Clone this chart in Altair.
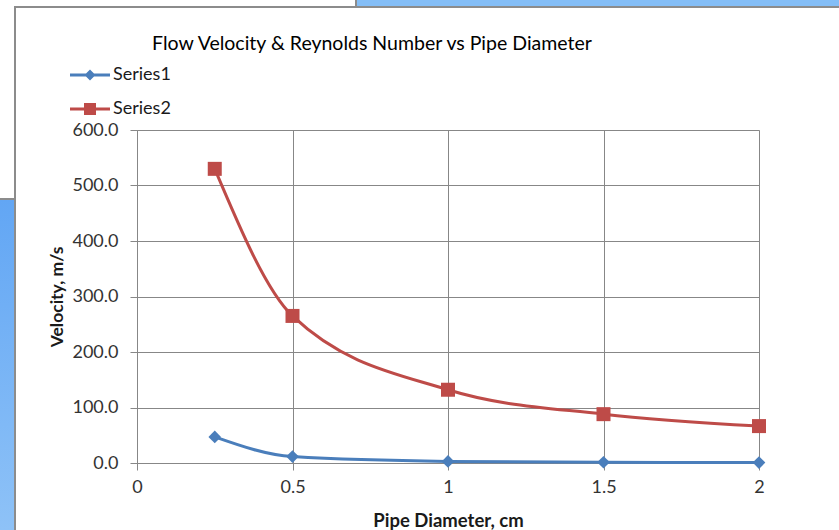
import altair as alt
import pandas as pd

# ---- data ----
diameter = [0.25, 0.5, 1.0, 1.5, 2.0]
series1 = [47.0, 11.5, 2.9, 1.3, 0.7]
series2 = [530.0, 265.0, 132.0, 88.0, 66.5]
series_names = ["Series1", "Series2"]
series_colors = ["#4A7EBB", "#BE4B48"]
x_ticks = [0, 0.5, 1, 1.5, 2]
y_ticks = [0, 100, 200, 300, 400, 500, 600]
title_text = "Flow Velocity & Reynolds Number vs Pipe Diameter"
x_title = "Pipe Diameter, cm"
y_title = "Velocity, m/s"

df = pd.DataFrame({
    "diameter": diameter + diameter,
    "value": series1 + series2,
    "series": [series_names[0]] * len(diameter) + [series_names[1]] * len(diameter),
})
d1 = df[df.series == series_names[0]]
d2 = df[df.series == series_names[1]]

FONT = "Lato"
GRID = "#878787"
W, H = 622, 333

x = alt.X("diameter:Q", scale=alt.Scale(domain=[0, 2], nice=False, zero=False),
          axis=alt.Axis(values=x_ticks, format="~g", title=x_title, grid=True,
                        gridColor=GRID, domainColor=GRID, tickColor=GRID, tickSize=7,
                        labelFont=FONT, labelFontSize=18, labelColor="#333333", labelPadding=8,
                        titleFont=FONT, titleFontSize=18.5, titleFontWeight="bold", titleColor="#1a1a1a",
                        titleY=57, titleBaseline="middle", labelFlush=False))
y = alt.Y("value:Q", scale=alt.Scale(domain=[0, 600], nice=False),
          axis=alt.Axis(values=y_ticks, format=".1f", title=y_title, grid=True,
                        gridColor=GRID, domainColor=GRID, tickColor=GRID, tickSize=7,
                        labelFont=FONT, labelFontSize=18, labelColor="#333333", labelPadding=12,
                        titleFont=FONT, titleFontSize=17.5, titleFontWeight="bold", titleColor="#1a1a1a",
                        titleX=-80, titleY=H / 2, titleAngle=-90, titleBaseline="middle",
                        titleAlign="center", labelFlush=False))

line1 = alt.Chart(d1).mark_line(interpolate="monotone", strokeWidth=3, color=series_colors[0]).encode(x=x, y=y)
line2 = alt.Chart(d2).mark_line(interpolate="monotone", strokeWidth=3, color=series_colors[1]).encode(x=x, y=y)
pts1 = alt.Chart(d1).mark_point(shape="diamond", filled=True, size=160, opacity=1,
                                color=series_colors[0]).encode(x=x, y=y)
pts2 = alt.Chart(d2).mark_point(shape="square", filled=True, size=196, opacity=1,
                                color=series_colors[1]).encode(x=x, y=y)

# legend symbols: line segment + marker
leg_paths = [
    "M-1.6,-0.12H1.6V0.12H-1.6Z M0,-0.44L0.44,0L0,0.44L-0.44,0Z",
    "M-1.6,-0.12H1.6V0.12H-1.6Z M-0.48,-0.48H0.48V0.48H-0.48Z",
]
leg = alt.Legend(title=None, orient="none", legendX=-59.5, legendY=-67.5, padding=0,
                 symbolSize=625, symbolStrokeWidth=0, symbolOpacity=1, rowPadding=12,
                 labelOffset=10.5, labelFont=FONT, labelFontSize=18, labelColor="#1a1a1a")
legend_layer = alt.Chart(df).mark_point(filled=True, opacity=0).encode(
    x=x, y=y,
    color=alt.Color("series:N", scale=alt.Scale(domain=series_names, range=series_colors), legend=leg),
    shape=alt.Shape("series:N", scale=alt.Scale(domain=series_names, range=leg_paths), legend=leg),
)

# window decoration around the chart (screenshot frame)
one = pd.DataFrame({"k": [0]})
def deco(x1, x2, y1, y2, color):
    return alt.Chart(one).mark_rect(color=color).encode(
        x=alt.value(x1), x2=alt.value(x2), y=alt.value(y1), y2=alt.value(y2))

deco_layers = [
    deco(357 - 137, 839 - 137, -130, -124, "#84BEF7"),
    deco(14 - 137, 839 - 137, -124, -122, "#8C8C8C"),
    deco(355 - 137, 357 - 137, -130, -124, "#8C8C8C"),
    deco(14 - 137, 16 - 137, -124, 400, "#8C8C8C"),
    alt.Chart(one).mark_rect(color=alt.Gradient(
        gradient="linear", x1=0, x2=0, y1=0, y2=1,
        stops=[alt.GradientStop(color="#62A6F4", offset=0),
               alt.GradientStop(color="#8EC2F7", offset=1)])).encode(
        x=alt.value(0 - 137), x2=alt.value(14 - 137), y=alt.value(200 - 130), y2=alt.value(400)),
    deco(0 - 137, 16 - 137, 198 - 130, 200 - 130, "#8C8C8C"),
]

chart = alt.layer(
    *deco_layers, line1, line2, pts1, pts2, legend_layer
).properties(
    width=W, height=H,
    title=alt.TitleParams(title_text, anchor="middle", dx=-76, dy=69, fontSize=19.5, font=FONT,
                          fontWeight="normal", color="#000000", offset=0, baseline="alphabetic"),
    autosize=alt.AutoSizeParams(type="none"),
    padding={"left": 137, "top": 130, "right": 80, "bottom": 67},
).configure_view(stroke=None).configure(background="white")

chart.save("out.html", embed_options={"renderer": "svg", "actions": False})
